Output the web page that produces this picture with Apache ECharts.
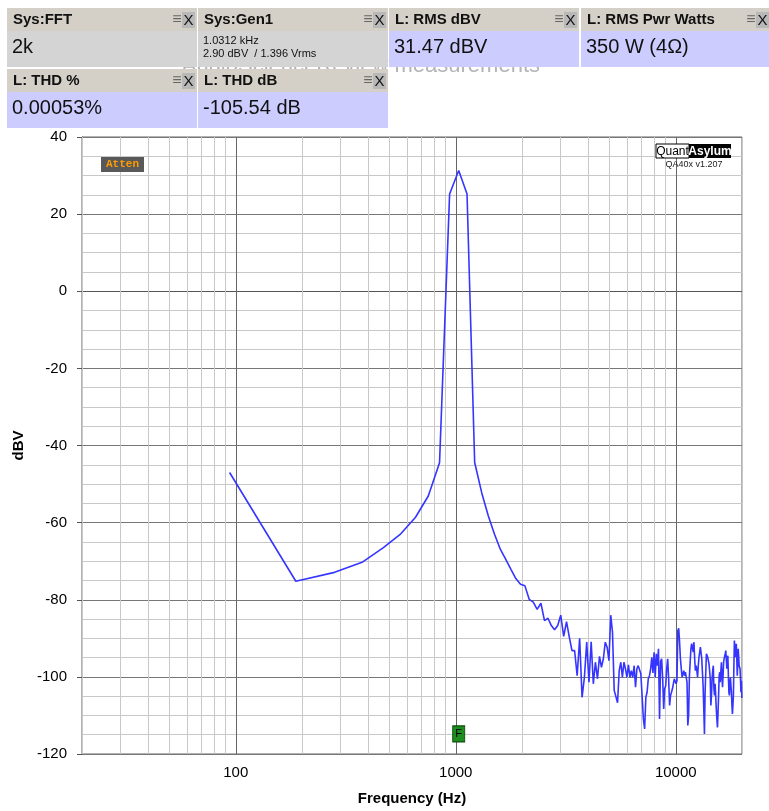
<!DOCTYPE html>
<html>
<head>
<meta charset="utf-8">
<script src="https://cdn.jsdelivr.net/npm/echarts@6/dist/echarts.min.js"></script>
<style>html,body{margin:0;padding:0;background:#fff}#c{width:769px;height:811px}</style>
</head>
<body>
<div id="c"></div>
<script>
// FFT bin spacing (192 kHz / 2k FFT)
const binHz = 93.75;
// Level of each FFT bin (dBV), bins 1..213
const levelsDbv = [
 -47.0,-75.2,-72.9,-70.3,-66.5,-62.9,-58.6,-53.1,-44.5,25.2,
  31.3, 25.2,-44.4,-52.3,-58.3,-63.0,-66.9,-69.5,-72.1,-74.5,
 -76.0,-76.4,-79.9,-80.6,-82.5,-80.9,-85.4,-84.8,-86.7,-87.8,
 -86.7,-84.0,-89.5,-85.7,-89.7,-93.2,-93.2,-99.7,-90.0,-105.3,
 -100.1,-91.0,-101.4,-90.9,-101.8,-96.2,-100.5,-94.7,-97.5,-95.3,
 -91.0,-92.3,-95.8,-84.0,-88.4,-103.5,-103.1,-106.7,-98.4,-96.2,
 -100.1,-96.2,-97.9,-100.1,-96.9,-100.1,-98.4,-100.1,-97.1,-102.7,
 -97.9,-97.1,-97.5,-99.2,-99.7,-110.9,-113.5,-105.3,-104.0,-100.5,
 -99.7,-97.9,-94.9,-99.0,-93.6,-100.1,-94.0,-97.1,-92.7,-110.9,
 -96.0,-95.3,-100.5,-108.3,-103.1,-102.3,-97.9,-95.3,-100.5,-107.4,
 -104.8,-104.0,-103.1,-101.8,-100.5,-100.5,-101.8,-101.0,-88.0,-87.4,
 -91.0,-95.3,-97.9,-100.1,-99.2,-98.4,-99.7,-98.8,-98.4,-101.4,
 -112.6,-110.0,-100.1,-96.2,-92.7,-91.4,-91.9,-93.6,-91.0,-95.3,
 -98.4,-97.1,-98.4,-100.1,-97.1,-94.9,-93.6,-92.3,-91.9,-95.3,
 -98.8,-102.3,-108.3,-114.8,-104.0,-98.8,-94.0,-93.6,-94.9,-95.3,
 -96.6,-98.4,-100.5,-107.4,-104.8,-100.5,-98.4,-97.1,-103.1,-104.8,
 -101.8,-104.8,-108.3,-110.9,-113.1,-109.2,-104.8,-99.7,-98.8,-101.4,
 -98.4,-96.2,-99.7,-102.7,-99.7,-96.2,-95.3,-94.6,-94.0,-93.2,
 -95.3,-97.9,-96.2,-94.5,-99.7,-104.0,-104.8,-101.4,-100.1,-102.3,
 -104.0,-107.4,-109.6,-107.4,-104.8,-97.1,-90.6,-92.7,-94.9,-92.7,
 -91.4,-95.3,-99.7,-97.1,-92.7,-94.5,-97.1,-97.5,-97.9,-100.5,
 -104.0,-101.0,-105.5
];
const xTickLabels = [100, 1000, 10000];
const xMinorGrid = [20,30,40,50,60,70,80,90,200,300,400,500,600,700,800,900,2000,3000,4000,5000,6000,7000,8000,9000,20000];
const xMajorGrid = [100, 1000, 10000];
const xAllTicks = [20,30,40,50,60,70,80,90,100,200,300,400,500,600,700,800,900,1000,2000,3000,4000,5000,6000,7000,8000,9000,10000,20000];
const fundamentalHz = 1031.25;
const markerLevel = -114.8;

const spectrum = levelsDbv.map((v, i) => [(i + 1) * binHz, v]);

const FONT = 'Liberation Sans, Arial, sans-serif';

function panel(x, y, w, title, bodyColor, bodyEls) {
  const els = [
    {type:'rect', zlevel:1, z:10, z2:10, shape:{x:x, y:y, width:w, height:23}, style:{fill:'#d4d0c8'}},
    {type:'rect', zlevel:1, z:10, z2:10, shape:{x:x, y:y+23, width:w, height:36}, style:{fill:bodyColor}},
    {type:'text', zlevel:1, z:11, z2:11, style:{x:x+6, y:y+12, text:title, font:'bold 15px ' + FONT, fill:'#111', verticalAlign:'middle'}},
    {type:'text', zlevel:1, z:11, z2:11, style:{x:x+w-20, y:y+12, text:'≡', font:'16px ' + FONT, fill:'#666', align:'center', verticalAlign:'middle'}},
    {type:'rect', zlevel:1, z:11, z2:11, shape:{x:x+w-15, y:y+4, width:13, height:16}, style:{fill:'#b8b8b8'}},
    {type:'text', zlevel:1, z:12, z2:12, style:{x:x+w-8.5, y:y+12.5, text:'X', font:'15px ' + FONT, fill:'#111', align:'center', verticalAlign:'middle'}}
  ];
  bodyEls.forEach(b => els.push({type:'text', zlevel:1, z:11, z2:11, style:Object.assign({x:x+b.dx, y:y+23+b.dy, fill:'#111', verticalAlign:'middle'}, b.style)}));
  return els;
}

let graphics = [];
graphics.push({type:'text', zlevel:0, z:1, z2:1, style:{x:540, y:66, text:'AudioScienceReview measurements', font:'22px ' + FONT, fill:'#b4b4b4', align:'right', verticalAlign:'middle'}});
graphics = graphics.concat(
  panel(7, 8, 190, 'Sys:FFT', '#d4d4d4', [{dx:5, dy:16, style:{text:'2k', font:'20px ' + FONT}}]),
  panel(198, 8, 190, 'Sys:Gen1', '#d4d4d4', [
    {dx:5, dy:10, style:{text:'1.0312 kHz', font:'11px ' + FONT}},
    {dx:5, dy:23, style:{text:'2.90 dBV  / 1.396 Vrms', font:'11px ' + FONT}}]),
  panel(389, 8, 190, 'L: RMS dBV', '#ccccff', [{dx:5, dy:16, style:{text:'31.47 dBV', font:'20px ' + FONT}}]),
  panel(581, 8, 190, 'L: RMS Pwr Watts', '#ccccff', [{dx:5, dy:16, style:{text:'350 W (4Ω)', font:'20px ' + FONT}}]),
  panel(7, 69, 190, 'L: THD %', '#ccccff', [{dx:5, dy:16, style:{text:'0.00053%', font:'20px ' + FONT}}]),
  panel(198, 69, 190, 'L: THD dB', '#ccccff', [{dx:5, dy:16, style:{text:'-105.54 dB', font:'20px ' + FONT}}])
);
// Atten badge
graphics.push({type:'rect', z:50, shape:{x:101, y:157, width:43, height:15}, style:{fill:'#595959'}});
graphics.push({type:'text', z:51, style:{x:122.5, y:164.5, text:'Atten', font:'bold 11px Liberation Mono, DejaVu Sans Mono, monospace', fill:'#ff9c00', align:'center', verticalAlign:'middle'}});
// QuantAsylum logo
graphics.push({type:'rect', z:50, shape:{x:656, y:144, width:33, height:14}, style:{fill:'#fff', stroke:'#000', lineWidth:1}});
graphics.push({type:'text', z:51, style:{x:672.5, y:151.5, text:'Quant', font:'12px ' + FONT, fill:'#000', align:'center', verticalAlign:'middle'}});
graphics.push({type:'rect', z:50, shape:{x:689, y:144, width:42, height:14}, style:{fill:'#000'}});
graphics.push({type:'text', z:51, style:{x:710, y:151.5, text:'Asylum', font:'bold 12px ' + FONT, fill:'#fff', align:'center', verticalAlign:'middle'}});
graphics.push({type:'text', z:51, style:{x:694, y:165, text:'QA40x v1.207', font:'9px ' + FONT, fill:'#222', align:'center', verticalAlign:'middle'}});

const chart = echarts.init(document.getElementById('c'));
chart.setOption({
  animation: false,
  backgroundColor: '#fff',
  grid: {left:82, right:27, top:137, bottom:56, show:true, borderColor:'#666', borderWidth:1, backgroundColor:'transparent'},
  xAxis: {
    type:'log', logBase:10, min:20, max:20000,
    name:'Frequency (Hz)', nameLocation:'middle', nameGap:37,
    nameTextStyle:{fontFamily:FONT, fontWeight:'bold', fontSize:15, color:'#000'},
    axisLine:{show:true, lineStyle:{color:'#555'}},
    axisTick:{show:true, length:5, customValues:xAllTicks, lineStyle:{color:'#555'}},
    axisLabel:{customValues:xTickLabels, fontFamily:FONT, fontSize:15, color:'#000', margin:11,
      formatter: v => (xTickLabels.indexOf(Math.round(v)) >= 0 ? String(Math.round(v)) : '')},
    splitLine:{show:false}
  },
  yAxis: {
    type:'value', min:-120, max:40, interval:20,
    name:'dBV', nameLocation:'middle', nameGap:56, nameRotate:90,
    nameTextStyle:{fontFamily:FONT, fontWeight:'bold', fontSize:15, color:'#000'},
    axisLine:{show:true, lineStyle:{color:'#555'}},
    axisTick:{show:true, length:5, lineStyle:{color:'#555'}},
    axisLabel:{fontFamily:FONT, fontSize:15, color:'#000', margin:15},
    splitLine:{show:true, lineStyle:{color:'#777', width:1}},
    minorTick:{show:false, splitNumber:4},
    minorSplitLine:{show:true, lineStyle:{color:'#c8c8c8', width:1}}
  },
  graphic: graphics,
  series: [
    {
      type:'line', data:[], z:1, silent:true,
      markLine:{
        silent:true, symbol:['none','none'], z:1, animation:false,
        label:{show:false},
        data: xMinorGrid.map(f => ({xAxis:f, lineStyle:{color:'#c8c8c8', width:1, type:'solid'}}))
          .concat(xMajorGrid.map(f => ({xAxis:f, lineStyle:{color:'#666', width:1, type:'solid'}})))
      }
    },
    {
      type:'line', data:spectrum, z:5, showSymbol:false, symbol:'none', silent:true,
      lineStyle:{color:'#3535ff', width:1.6},
      markPoint:{
        silent:true, animation:false,
        data:[{coord:[fundamentalHz, markerLevel], symbol:'rect', symbolSize:[12,16],
          itemStyle:{color:'#1e8c1e', borderColor:'#0b4d0b', borderWidth:1},
          label:{show:true, position:'inside', formatter:'F', color:'#000', fontSize:11, fontFamily:FONT}}]
      }
    }
  ]
});
</script>
</body>
</html>
